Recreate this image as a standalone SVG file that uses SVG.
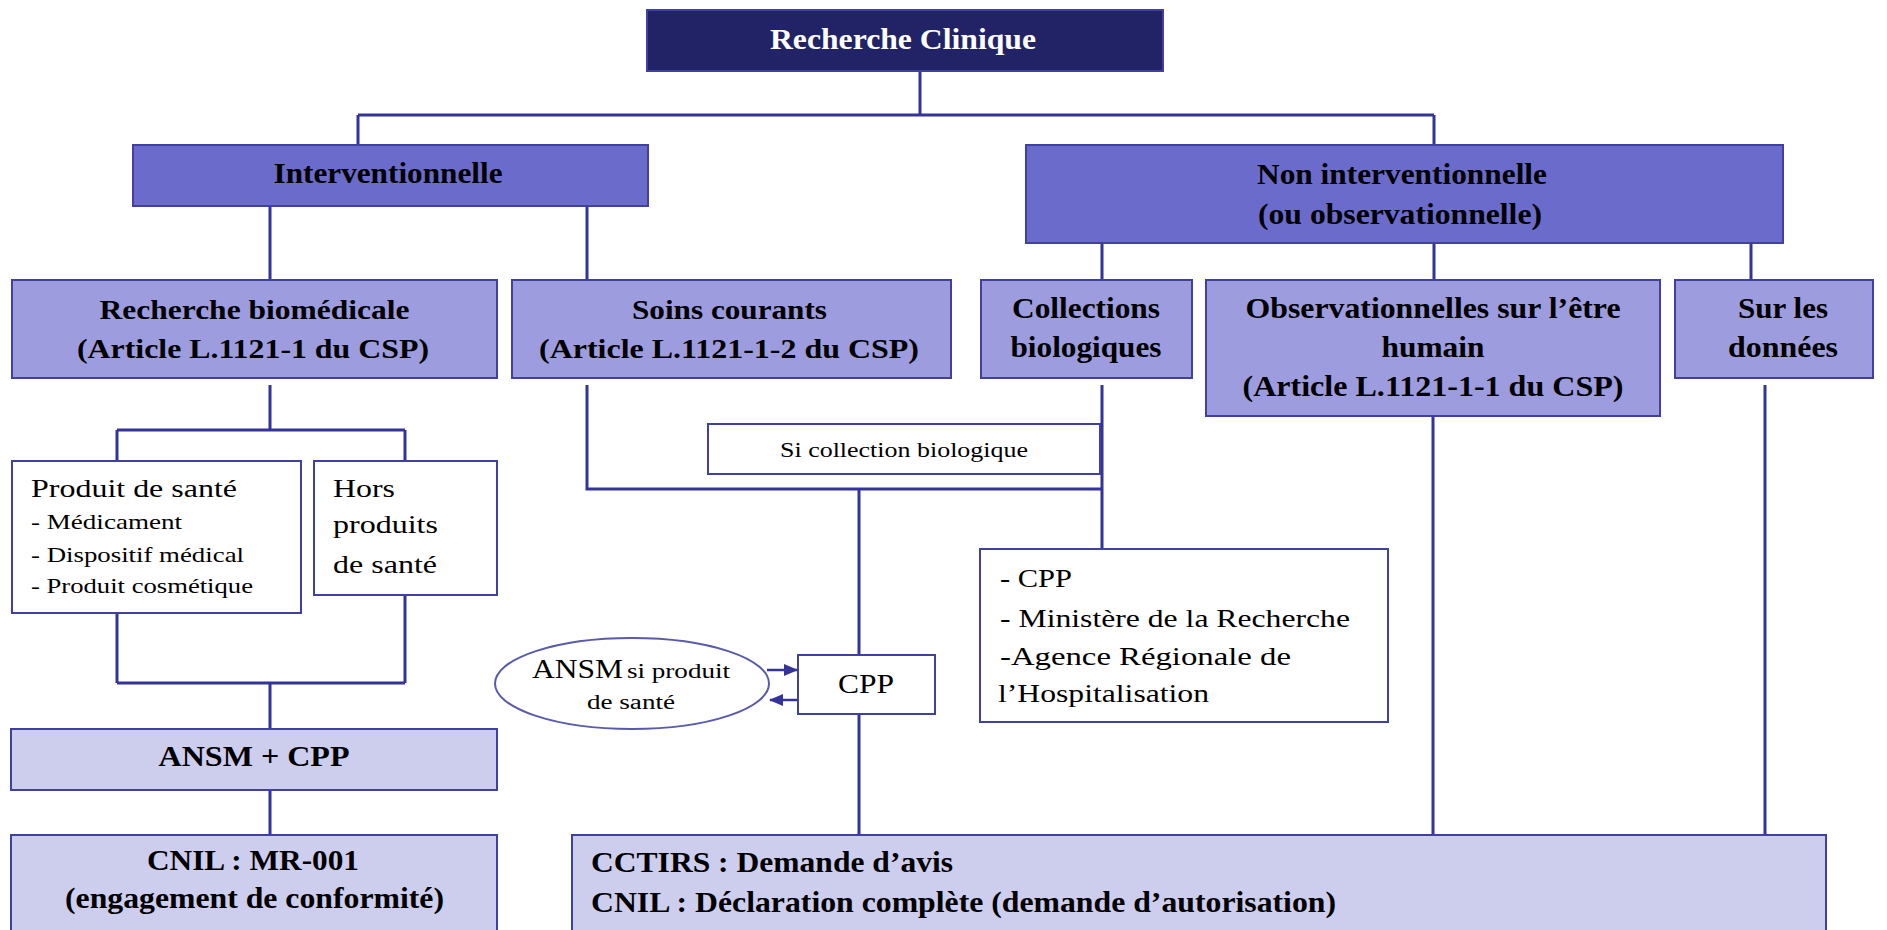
<svg xmlns="http://www.w3.org/2000/svg" width="1887" height="930" viewBox="0 0 1887 930">
<defs>
<style>
.box{stroke:#4040a0;stroke-width:2}
.l0{fill:#222266}
.l1{fill:#6b6bcc}
.l2{fill:#9c9cde}
.l3{fill:#cdcdee}
.w{fill:#ffffff}
.b{font-family:"Liberation Serif","Times New Roman",serif;font-weight:bold;fill:#000}
.r{font-family:"Liberation Serif","Times New Roman",serif;fill:#000}
.c{text-anchor:middle}
.con{fill:none;stroke:#333399;stroke-width:3}
</style>
<marker id="ah" viewBox="0 0 14 12" refX="13" refY="6" markerWidth="14" markerHeight="12" markerUnits="userSpaceOnUse" orient="auto">
<path d="M0,0 L14,6 L0,12 z" fill="#333399"/>
</marker>
</defs>
<rect width="1887" height="930" fill="#ffffff"/>
<g id="connectors" class="con">
<path d="M920 71 V115 M358 115 H1434 M358 115 V145 M1434 115 V145"/>
<path d="M270 206 V280 M587 206 V280"/>
<path d="M1102 234 V280 M1434 234 V280 M1751 234 V280"/>
<path d="M270 385 V430 M117 430 H405 M117 430 V461 M405 430 V461"/>
<path d="M117 609 V683 M405 595 V683 M117 683 H405 M270 683 V729 M270 790 V835"/>
<path d="M587 385 V489 H1102 M1102 385 V549 M859 489 V655 M859 714 V835"/>
<path d="M1433 416 V835 M1765 385 V835"/>
<path d="M767 670 H797" marker-end="url(#ah)" stroke-width="2.5"/>
<path d="M797 700 H770" marker-end="url(#ah)" stroke-width="2.5"/>
</g>
<g id="recherche-clinique">
<rect class="box l0" x="647" y="10" width="516" height="61"/>
<text class="b c" x="903" y="49" font-size="30" fill="#ffffff" style="fill:#ffffff" textLength="266" lengthAdjust="spacingAndGlyphs">Recherche Clinique</text>
</g>
<g id="interventionnelle">
<rect class="box l1" x="133" y="145" width="515" height="61"/>
<text class="b c" x="388" y="183" font-size="30" textLength="229" lengthAdjust="spacingAndGlyphs">Interventionnelle</text>
</g>
<g id="non-interventionnelle">
<rect class="box l1" x="1026" y="145" width="757" height="98"/>
<text class="b c" x="1402" y="184" font-size="29" textLength="290" lengthAdjust="spacingAndGlyphs">Non interventionnelle</text>
<text class="b c" x="1400" y="224" font-size="29" textLength="284" lengthAdjust="spacingAndGlyphs">(ou observationnelle)</text>
</g>
<g id="recherche-biomedicale">
<rect class="box l2" x="12" y="280" width="485" height="98"/>
<text class="b c" x="254.5" y="319" font-size="28" textLength="310" lengthAdjust="spacingAndGlyphs">Recherche biomédicale</text>
<text class="b c" x="253" y="358" font-size="28" textLength="352" lengthAdjust="spacingAndGlyphs">(Article L.1121-1 du CSP)</text>
</g>
<g id="soins-courants">
<rect class="box l2" x="512" y="280" width="439" height="98"/>
<text class="b c" x="729.5" y="319" font-size="28" textLength="195" lengthAdjust="spacingAndGlyphs">Soins courants</text>
<text class="b c" x="729" y="358" font-size="28" textLength="380" lengthAdjust="spacingAndGlyphs">(Article L.1121-1-2 du CSP)</text>
</g>
<g id="collections-biologiques">
<rect class="box l2" x="981" y="280" width="211" height="98"/>
<text class="b c" x="1086" y="318" font-size="29" textLength="148" lengthAdjust="spacingAndGlyphs">Collections</text>
<text class="b c" x="1086" y="357" font-size="29" textLength="151" lengthAdjust="spacingAndGlyphs">biologiques</text>
</g>
<g id="observationnelles">
<rect class="box l2" x="1206" y="280" width="454" height="136"/>
<text class="b c" x="1433" y="318" font-size="29" textLength="375" lengthAdjust="spacingAndGlyphs">Observationnelles  sur l’être</text>
<text class="b c" x="1433" y="357" font-size="29" textLength="103" lengthAdjust="spacingAndGlyphs">humain</text>
<text class="b c" x="1433" y="396" font-size="29" textLength="381" lengthAdjust="spacingAndGlyphs">(Article L.1121-1-1 du CSP)</text>
</g>
<g id="sur-les-donnees">
<rect class="box l2" x="1675" y="280" width="198" height="98"/>
<text class="b c" x="1783" y="318" font-size="29" textLength="90" lengthAdjust="spacingAndGlyphs">Sur les</text>
<text class="b c" x="1783" y="357" font-size="29" textLength="110" lengthAdjust="spacingAndGlyphs">données</text>
</g>
<g id="produit-de-sante">
<rect class="box w" x="12" y="461" width="289" height="152"/>
<text class="r" x="31" y="497" font-size="26" textLength="206" lengthAdjust="spacingAndGlyphs">Produit de santé</text>
<text class="r" x="31" y="529" font-size="21" textLength="151" lengthAdjust="spacingAndGlyphs">- Médicament</text>
<text class="r" x="31" y="562" font-size="21" textLength="213" lengthAdjust="spacingAndGlyphs">- Dispositif médical</text>
<text class="r" x="31" y="593" font-size="21" textLength="222" lengthAdjust="spacingAndGlyphs">- Produit cosmétique</text>
</g>
<g id="hors-produits">
<rect class="box w" x="314" y="461" width="183" height="134"/>
<text class="r" x="333" y="497" font-size="26" textLength="62" lengthAdjust="spacingAndGlyphs">Hors</text>
<text class="r" x="333" y="533" font-size="26" textLength="105" lengthAdjust="spacingAndGlyphs">produits</text>
<text class="r" x="333" y="573" font-size="26" textLength="104" lengthAdjust="spacingAndGlyphs">de santé</text>
</g>
<g id="si-collection">
<rect class="box w" x="708" y="424" width="392" height="50"/>
<text class="r" x="780" y="457" font-size="22" textLength="248" lengthAdjust="spacingAndGlyphs">Si collection biologique</text>
</g>
<g id="ansm-si-produit">
<ellipse cx="632" cy="683.5" rx="137" ry="45.5" fill="#ffffff" stroke="#5a5aaa" stroke-width="2"/>
<text class="r" x="532" y="678" font-size="27" textLength="91" lengthAdjust="spacingAndGlyphs">ANSM</text>
<text class="r" x="627" y="678" font-size="20" textLength="103" lengthAdjust="spacingAndGlyphs">si produit</text>
<text class="r" x="587" y="709" font-size="20" textLength="88" lengthAdjust="spacingAndGlyphs">de santé</text>
</g>
<g id="cpp">
<rect class="box w" x="798" y="655" width="137" height="59"/>
<text class="r" x="838" y="693" font-size="27" textLength="56" lengthAdjust="spacingAndGlyphs">CPP</text>
</g>
<g id="cpp-ministere">
<rect class="box w" x="980" y="549" width="408" height="173"/>
<text class="r" x="1000" y="587" font-size="25" textLength="72" lengthAdjust="spacingAndGlyphs">- CPP</text>
<text class="r" x="1000" y="627" font-size="25" textLength="350" lengthAdjust="spacingAndGlyphs">- Ministère de la Recherche</text>
<text class="r" x="1000" y="665" font-size="25" textLength="291" lengthAdjust="spacingAndGlyphs">-Agence Régionale de</text>
<text class="r" x="998" y="702" font-size="25" textLength="211" lengthAdjust="spacingAndGlyphs">l’Hospitalisation</text>
</g>
<g id="ansm-cpp">
<rect class="box l3" x="11" y="729" width="486" height="61"/>
<text class="b c" x="254" y="766" font-size="29" textLength="191" lengthAdjust="spacingAndGlyphs">ANSM + CPP</text>
</g>
<g id="cnil-mr001">
<rect class="box l3" x="11" y="835" width="486" height="110"/>
<text class="b c" x="253" y="870" font-size="29" textLength="212" lengthAdjust="spacingAndGlyphs">CNIL : MR-001</text>
<text class="b c" x="254.5" y="908" font-size="29" textLength="379" lengthAdjust="spacingAndGlyphs">(engagement de conformité)</text>
</g>
<g id="cctirs-cnil">
<rect class="box l3" x="572" y="835" width="1254" height="110"/>
<text class="b" x="591" y="872" font-size="29" textLength="362" lengthAdjust="spacingAndGlyphs">CCTIRS : Demande d’avis</text>
<text class="b" x="591" y="912" font-size="29" textLength="745" lengthAdjust="spacingAndGlyphs">CNIL : Déclaration complète (demande d’autorisation)</text>
</g>
</svg>
